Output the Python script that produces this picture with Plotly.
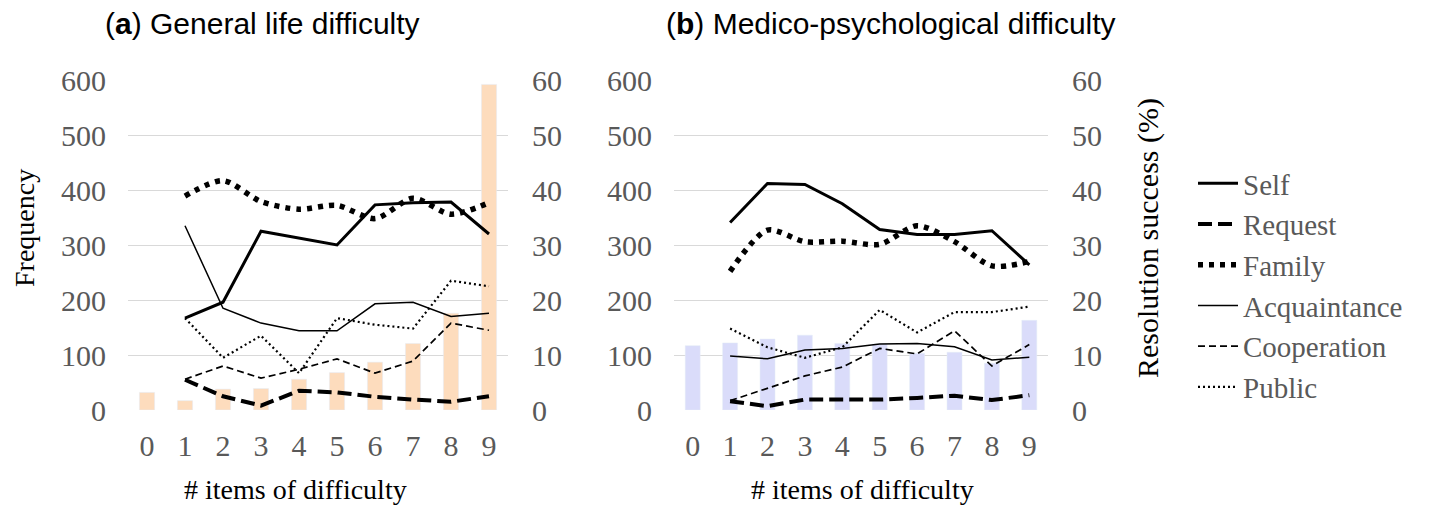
import plotly.graph_objects as go

# ---------------- data ----------------
items = [0, 1, 2, 3, 4, 5, 6, 7, 8, 9]
item_labels = ["0", "1", "2", "3", "4", "5", "6", "7", "8", "9"]
line_items = [1, 2, 3, 4, 5, 6, 7, 8, 9]

freq_general = [32, 17, 38, 39, 56, 68, 87, 121, 176, 592]
freq_medico = [117, 122, 129, 136, 121, 120, 103, 105, 85, 163]

# resolution success (%) - (a) general life difficulty
self_general = [16.7, 19.6, 32.5, 31.3, 30.0, 37.3, 37.7, 37.8, 32.0]
request_general = [5.5, 2.5, 0.8, 3.5, 3.2, 2.4, 1.9, 1.5, 2.5]
family_general = [38.9, 41.7, 37.9, 36.5, 37.2, 34.8, 38.5, 35.6, 37.7]
acquaint_general = [33.5, 18.5, 15.8, 14.4, 14.4, 19.3, 19.6, 17.0, 17.6]
coop_general = [5.6, 8.0, 5.8, 7.4, 9.3, 6.7, 8.9, 15.8, 14.5]
public_general = [16.7, 9.5, 13.5, 6.7, 16.7, 15.5, 14.8, 23.5, 22.5]

# resolution success (%) - (b) medico-psychological difficulty
self_medico = [34.1, 41.2, 41.0, 37.5, 32.8, 31.9, 31.9, 32.6, 26.4]
request_medico = [1.6, 0.7, 1.9, 1.9, 1.9, 2.2, 2.6, 1.8, 2.7]
family_medico = [25.2, 32.7, 30.6, 30.7, 30.1, 33.5, 30.6, 26.2, 27.0]
acquaint_medico = [9.8, 9.3, 10.9, 11.2, 12.0, 12.1, 11.5, 9.1, 9.6]
coop_medico = [1.7, 3.9, 6.2, 7.8, 11.2, 10.2, 14.4, 8.0, 11.9]
public_medico = [14.8, 11.4, 9.5, 11.4, 18.2, 14.1, 17.8, 17.8, 18.8]

series_names = ["Self", "Request", "Family", "Acquaintance", "Cooperation", "Public"]
panel_titles = ["(<b>a</b>) General life difficulty", "(<b>b</b>) Medico-psychological difficulty"]

# ---------------- styles ----------------
SERIF = "Liberation Serif, Times New Roman, serif"
SANS = "Liberation Sans, Arial, sans-serif"
GRAY = "#595959"
GRID = "#d9d9d9"

styles = {
    "Self": dict(color="black", width=3, dash="solid", shape="linear"),
    "Request": dict(color="black", width=4, dash="14px,6px", shape="linear"),
    "Family": dict(color="black", width=5.5, dash="5px,6px", shape="spline"),
    "Acquaintance": dict(color="black", width=1.5, dash="solid", shape="linear"),
    "Cooperation": dict(color="black", width=1.7, dash="7px,4px", shape="linear"),
    "Public": dict(color="black", width=2.2, dash="2px,3px", shape="linear"),
}

# page body margin is reset to 0 (see post_script), so figure fills the window
W, H = 1429, 505


def fx(p):
    return p / W


def fy(p):
    return 1 - p / H


fig = go.Figure()

# bars
fig.add_trace(go.Bar(x=items, y=freq_general, marker_color="#FDDCBD", width=0.4,
                     xaxis="x", yaxis="y", showlegend=False, hoverinfo="skip"))
fig.add_trace(go.Bar(x=items, y=freq_medico, marker_color="#DADCFA", width=0.4,
                     xaxis="x2", yaxis="y3", showlegend=False, hoverinfo="skip"))

general_series = [self_general, request_general, family_general,
                  acquaint_general, coop_general, public_general]
medico_series = [self_medico, request_medico, family_medico,
                 acquaint_medico, coop_medico, public_medico]

for name, vals in zip(series_names, general_series):
    st = styles[name]
    fig.add_trace(go.Scatter(x=line_items, y=vals, mode="lines", name=name,
                             line=dict(color=st["color"], width=st["width"], dash=st["dash"],
                                       shape=st["shape"], smoothing=0.8),
                             xaxis="x", yaxis="y2", showlegend=True))
for name, vals in zip(series_names, medico_series):
    st = styles[name]
    fig.add_trace(go.Scatter(x=line_items, y=vals, mode="lines", name=name,
                             line=dict(color=st["color"], width=st["width"], dash=st["dash"],
                                       shape=st["shape"], smoothing=0.8),
                             xaxis="x2", yaxis="y4", showlegend=False))

ydom = [fy(410), fy(80)]
tickfont = dict(family=SERIF, size=30, color=GRAY)

xcommon = dict(range=[-0.5, 9.5], tickvals=items, ticktext=item_labels, showgrid=False,
               zeroline=False, showline=False, ticks="outside", ticklen=9,
               tickcolor="rgba(0,0,0,0)", tickfont=tickfont, fixedrange=True,
               automargin=False)
yleft = dict(range=[0, 600], dtick=100, showgrid=True, gridcolor=GRID, gridwidth=1.3,
             zeroline=False, showline=False, ticks="outside", ticklen=15,
             tickcolor="rgba(0,0,0,0)", tickfont=tickfont, domain=ydom, automargin=False)
yright = dict(range=[0, 60], dtick=10, showgrid=False, zeroline=False, showline=False,
              ticks="outside", ticklen=17, tickcolor="rgba(0,0,0,0)", tickfont=tickfont,
              side="right", automargin=False)

fig.update_layout(
    width=W, height=H,
    margin=dict(l=0, r=0, t=0, b=0, autoexpand=False),
    paper_bgcolor="white", plot_bgcolor="white",
    barmode="overlay",
    xaxis=dict(xcommon, domain=[fx(128), fx(508)], anchor="y"),
    xaxis2=dict(xcommon, domain=[fx(674), fx(1048)], anchor="y3"),
    yaxis=dict(yleft, anchor="x"),
    yaxis2=dict(yright, overlaying="y", anchor="x"),
    yaxis3=dict(yleft, anchor="x2"),
    yaxis4=dict(yright, overlaying="y3", anchor="x2"),
    legend=dict(x=fx(1193), y=fy(158), xanchor="left", yanchor="top",
                font=dict(family=SERIF, size=29, color=GRAY),
                tracegroupgap=0, itemwidth=40, bgcolor="rgba(0,0,0,0)"),
    showlegend=True,
)

annotations = [
    dict(text=panel_titles[0], x=fx(103), y=fy(23), xanchor="left", yanchor="middle",
         font=dict(family=SANS, size=30, color="black")),
    dict(text=panel_titles[1], x=fx(664), y=fy(23), xanchor="left", yanchor="middle",
         font=dict(family=SANS, size=30, color="black")),
    dict(text="Frequency", x=fx(25), y=fy(228), textangle=-90, xanchor="center",
         yanchor="middle", font=dict(family=SERIF, size=28, color="black")),
    dict(text="Resolution success (%)", x=fx(1148), y=fy(238), textangle=-90,
         xanchor="center", yanchor="middle", font=dict(family=SERIF, size=30, color="black")),
    dict(text="# items of difficulty", x=fx(295), y=fy(489), xanchor="center",
         yanchor="middle", font=dict(family=SERIF, size=28, color="black")),
    dict(text="# items of difficulty", x=fx(862), y=fy(489), xanchor="center",
         yanchor="middle", font=dict(family=SERIF, size=28, color="black")),
]
for a in annotations:
    a.update(xref="paper", yref="paper", showarrow=False)
fig.update_layout(annotations=annotations)

fig.write_html("out.html",
               config={"displayModeBar": False},
               post_script="document.body.style.margin='0px';document.body.style.overflow='hidden';")
